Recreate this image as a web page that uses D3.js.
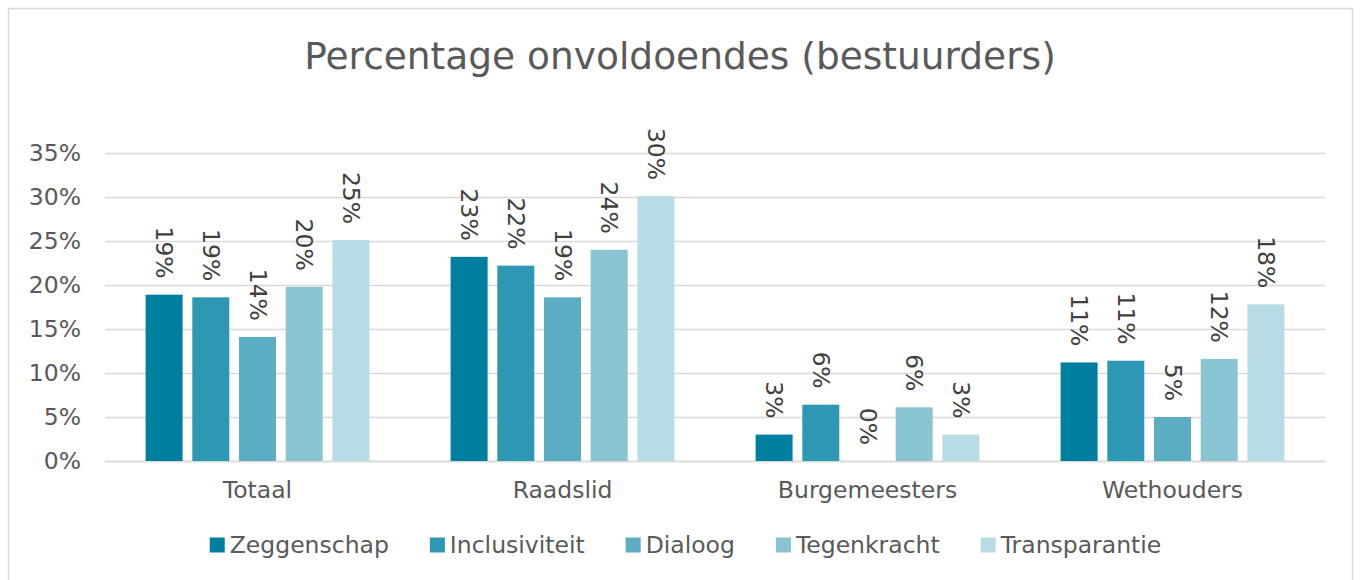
<!DOCTYPE html>
<html>
<head>
<meta charset="utf-8">
<script src="https://cdn.jsdelivr.net/npm/d3@7"></script>
<style>
  html, body { margin: 0; padding: 0; background: #fff; }
  svg { display: block; font-family: "DejaVu Sans", Verdana, sans-serif; }
</style>
</head>
<body>
<svg id="chart" width="1361" height="580"></svg>
<script>
const title = "Percentage onvoldoendes (bestuurders)";
const categories = ["Totaal", "Raadslid", "Burgemeesters", "Wethouders"];
const seriesNames = ["Zeggenschap", "Inclusiviteit", "Dialoog", "Tegenkracht", "Transparantie"];
const zeggenschap   = [18.9, 23.2, 3.0, 11.2];
const inclusiviteit = [18.6, 22.2, 6.4, 11.4];
const dialoog       = [14.1, 18.6, 0.0, 5.0];
const tegenkracht   = [19.8, 24.0, 6.1, 11.6];
const transparantie = [25.1, 30.1, 3.0, 17.8];
const seriesValues = [zeggenschap, inclusiviteit, dialoog, tegenkracht, transparantie];
const colors = ["#007fa0", "#2e97b4", "#5aadc3", "#89c4d3", "#b7dce5"];
const yTicks = [0, 5, 10, 15, 20, 25, 30, 35];

const svg = d3.select("#chart");
const textColor = "#595959";
const gridColor = "#d9d9d9";

// outer border
svg.append("rect").attr("x", 8.5).attr("y", 8.5).attr("width", 1344).attr("height", 590)
  .attr("fill", "none").attr("stroke", gridColor).attr("stroke-width", 1.5);

const plot = { left: 105, right: 1325, top: 153, bottom: 461 };

const x0 = d3.scaleBand().domain(categories).range([plot.left, plot.right]).padding(0);
const groupPad = 35.75;
const x1 = d3.scaleBand().domain(seriesNames)
  .range([groupPad, x0.bandwidth() - groupPad])
  .paddingInner(0.208).paddingOuter(0.104);
const y = d3.scaleLinear().domain([0, 35]).range([plot.bottom, plot.top]);

// title
svg.append("text").attr("x", 680).attr("y", 69).attr("text-anchor", "middle")
  .attr("font-size", 37.5).attr("fill", textColor).text(title);

// gridlines + y labels via axis
const yAxis = d3.axisLeft(y).tickValues(yTicks).tickFormat(d => d + "%")
  .tickSize(-(plot.right - plot.left)).tickPadding(24);
const gy = svg.append("g").attr("transform", `translate(${plot.left},0)`).call(yAxis);
gy.select(".domain").remove();
gy.selectAll(".tick line").attr("stroke", gridColor).attr("stroke-width", 1.5);
gy.selectAll(".tick text").attr("font-size", 23.5).attr("fill", textColor)
  .attr("font-family", "DejaVu Sans, sans-serif");

// x axis
const xAxis = d3.axisBottom(x0).tickSize(0).tickPadding(20);
const gx = svg.append("g").attr("transform", `translate(0,${plot.bottom})`).call(xAxis);
gx.select(".domain").attr("stroke", gridColor).attr("stroke-width", 1.5);
gx.selectAll(".tick text").attr("font-size", 23.5).attr("fill", textColor)
  .attr("font-family", "DejaVu Sans, sans-serif");

// bars
const rows = [];
categories.forEach((c, ci) => seriesNames.forEach((s, si) => rows.push({ c, s, si, v: seriesValues[si][ci] })));

const gBars = svg.append("g");
gBars.selectAll("rect").data(rows).join("rect")
  .attr("x", d => x0(d.c) + x1(d.s))
  .attr("y", d => y(d.v))
  .attr("width", x1.bandwidth())
  .attr("height", d => y(0) - y(d.v))
  .attr("fill", d => colors[d.si]);

// data labels (rotated 90deg)
gBars.selectAll("text").data(rows).join("text")
  .attr("transform", d => `translate(${x0(d.c) + x1(d.s) + x1.bandwidth() / 2},${y(d.v) - 16}) rotate(90)`)
  .attr("text-anchor", "end")
  .attr("dominant-baseline", "central")
  .attr("font-size", 23.5)
  .attr("fill", "#404040")
  .text(d => Math.round(d.v) + "%");

// legend
const legend = svg.append("g");
const items = legend.selectAll("g").data(seriesNames).join("g");
items.append("rect").attr("width", 15).attr("height", 15).attr("y", -7.5)
  .attr("fill", (d, i) => colors[i]);
items.append("text").attr("x", 20).attr("dominant-baseline", "central")
  .attr("font-size", 23.5).attr("fill", textColor).text(d => d);
let xpos = 0;
const gap = 41;
items.each(function () {
  const w = 20 + this.querySelector("text").getComputedTextLength();
  d3.select(this).attr("transform", `translate(${xpos},0)`);
  xpos += w + gap;
});
const totalW = xpos - gap;
legend.attr("transform", `translate(${685.5 - totalW / 2},545)`);
</script>
</body>
</html>
